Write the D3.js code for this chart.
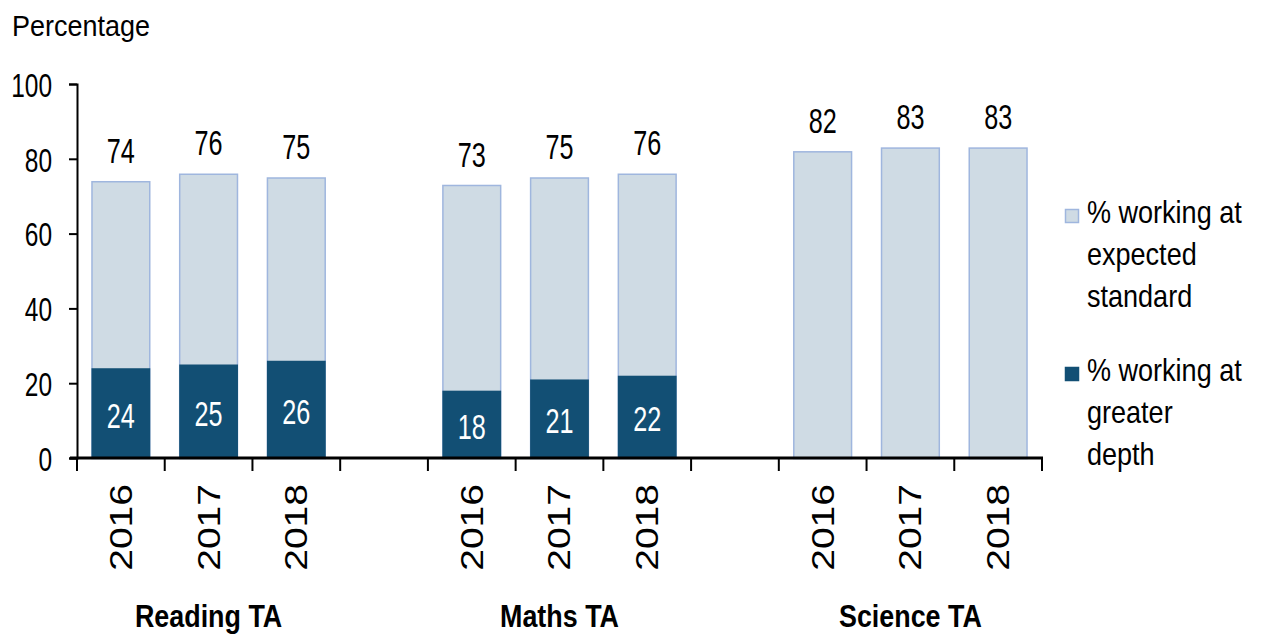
<!DOCTYPE html>
<html>
<head>
<meta charset="utf-8">
<script src="https://cdn.jsdelivr.net/npm/d3@7"></script>
<style>
  body { margin: 0; background: #fff; }
  text { font-family: "Liberation Sans", Arial, sans-serif; fill: #000; }
</style>
</head>
<body>
<script>
// chart values
const groups = ["Reading TA", "Maths TA", "Science TA"];
const years = ["2016", "2017", "2018"];
const expectedStd = [74, 76, 75, 73, 75, 76, 82, 83, 83];
const greaterDepth = [24, 25, 26, 18, 21, 22, null, null, null];
const yTicks = [0, 20, 40, 60, 80, 100];
const legendLabels = [
  ["% working at", "expected", "standard"],
  ["% working at", "greater", "depth"]
];

const w = 1261, h = 636;
const lightFill = "#cfdbe4", lightStroke = "#9fb6de", darkFill = "#124f74";

let svg = d3.select("body").append("svg")
  .attr("width", w).attr("height", h);

// slots: 3 bars per group, one empty slot between groups
let slots = [];
let rows = [];
groups.forEach((g, gi) => {
  years.forEach((y, yi) => {
    const key = g + "|" + y;
    slots.push(key);
    rows.push({ group: g, year: y, key: key,
      exp: expectedStd[gi * 3 + yi], deep: greaterDepth[gi * 3 + yi] });
  });
  if (gi < groups.length - 1) slots.push("gap" + gi);
});

let x = d3.scaleBand().domain(slots).range([77, 1042])
  .paddingInner(0.33).paddingOuter(0.165);
let yScale = d3.scaleLinear().domain([0, 100]).range([458, 84]);

// text helper: horizontally condensed like the original
function label(sel, px, sx) {
  return sel.attr("font-size", px + "px")
    .attr("transform", d => "scale(" + sx + ",1)");
}

// bars
let bars = svg.append("g");
bars.selectAll("rect.exp").data(rows).enter().append("rect")
  .attr("class", "exp")
  .attr("x", d => x(d.key) + 0.5)
  .attr("width", x.bandwidth() - 1)
  .attr("y", d => yScale(d.exp) + 0.5)
  .attr("height", d => yScale(0) - yScale(d.exp))
  .attr("fill", lightFill)
  .attr("stroke", lightStroke)
  .attr("stroke-width", 1.5);

bars.selectAll("rect.deep").data(rows.filter(d => d.deep != null)).enter().append("rect")
  .attr("class", "deep")
  .attr("x", d => x(d.key))
  .attr("width", x.bandwidth())
  .attr("y", d => yScale(d.deep))
  .attr("height", d => yScale(0) - yScale(d.deep))
  .attr("fill", darkFill);

// value labels
bars.selectAll("g.tot").data(rows).enter().append("g")
  .attr("transform", d => "translate(" + (x(d.key) + x.bandwidth() / 2) + "," + (yScale(d.exp) - 31) + ")")
  .append("text")
  .attr("text-anchor", "middle").attr("dy", "0.36em")
  .call(label, 35, 0.72)
  .text(d => d.exp);

bars.selectAll("g.dl").data(rows.filter(d => d.deep != null)).enter().append("g")
  .attr("transform", d => "translate(" + (x(d.key) + x.bandwidth() / 2) + "," + (yScale(d.deep / 2) + 2) + ")")
  .append("text")
  .attr("text-anchor", "middle").attr("dy", "0.36em")
  .style("fill", "#fff")
  .call(label, 35, 0.72)
  .text(d => d.deep);

// y axis
let yAxis = svg.append("g").attr("transform", "translate(77,0)")
  .call(d3.axisLeft(yScale).tickValues(yTicks).tickSize(8).tickFormat(d3.format("d")));
yAxis.select(".domain").attr("stroke", "#000").attr("stroke-width", 2);
yAxis.selectAll(".tick line").attr("stroke", "#000").attr("stroke-width", 2);
yAxis.selectAll(".tick text").remove();
yAxis.selectAll(".tick").append("g")
  .attr("transform", "translate(-25,0)")
  .append("text")
  .attr("text-anchor", "end").attr("dy", "0.36em")
  .call(label, 34, 0.72)
  .text(d => d);

// x axis
const bounds = d3.range(slots.length + 1).map(i => 77 + i * x.step());
let xAxis = svg.append("g");
xAxis.append("line")
  .attr("x1", 70).attr("x2", bounds[bounds.length - 1] + 1)
  .attr("y1", yScale(0)).attr("y2", yScale(0))
  .attr("stroke", "#000").attr("stroke-width", 3);
xAxis.selectAll("line.tk").data(bounds).enter().append("line")
  .attr("class", "tk")
  .attr("x1", d => d).attr("x2", d => d)
  .attr("y1", yScale(0)).attr("y2", yScale(0) + 13)
  .attr("stroke", "#000").attr("stroke-width", 2);

// year labels (rotated)
xAxis.selectAll("g.yr").data(rows).enter().append("g")
  .attr("transform", d => "translate(" + (x(d.key) + x.bandwidth() / 2) + ",484) scale(0.78,1) rotate(-90)")
  .append("text")
  .attr("text-anchor", "end").attr("dy", "0.36em")
  .attr("font-size", "39px")
  .text(d => d.year);

// group labels
xAxis.selectAll("g.grp").data(groups).enter().append("g")
  .attr("transform", d => "translate(" + (x(d + "|2017") + x.bandwidth() / 2) + ",627)")
  .append("text")
  .attr("text-anchor", "middle").attr("font-weight", "bold")
  .call(label, 32, 0.84)
  .text(d => d);

// y title
svg.append("g").attr("transform", "translate(12,36)")
  .append("text")
  .call(label, 30, 0.9)
  .text("Percentage");

// legend
let legend = svg.append("g");
const legendY = [223, 381];
const legendCol = [[lightFill, lightStroke], [darkFill, darkFill]];
legendLabels.forEach((lines, i) => {
  legend.append("rect")
    .attr("x", 1065.5).attr("y", legendY[i] - 13.5)
    .attr("width", 13).attr("height", 13)
    .attr("fill", legendCol[i][0]).attr("stroke", legendCol[i][1]).attr("stroke-width", 1.5);
  lines.forEach((t, j) => {
    legend.append("g")
      .attr("transform", "translate(1087," + (legendY[i] + j * 42) + ")")
      .append("text")
      .call(label, 32, 0.845)
      .text(t);
  });
});
</script>
</body>
</html>
